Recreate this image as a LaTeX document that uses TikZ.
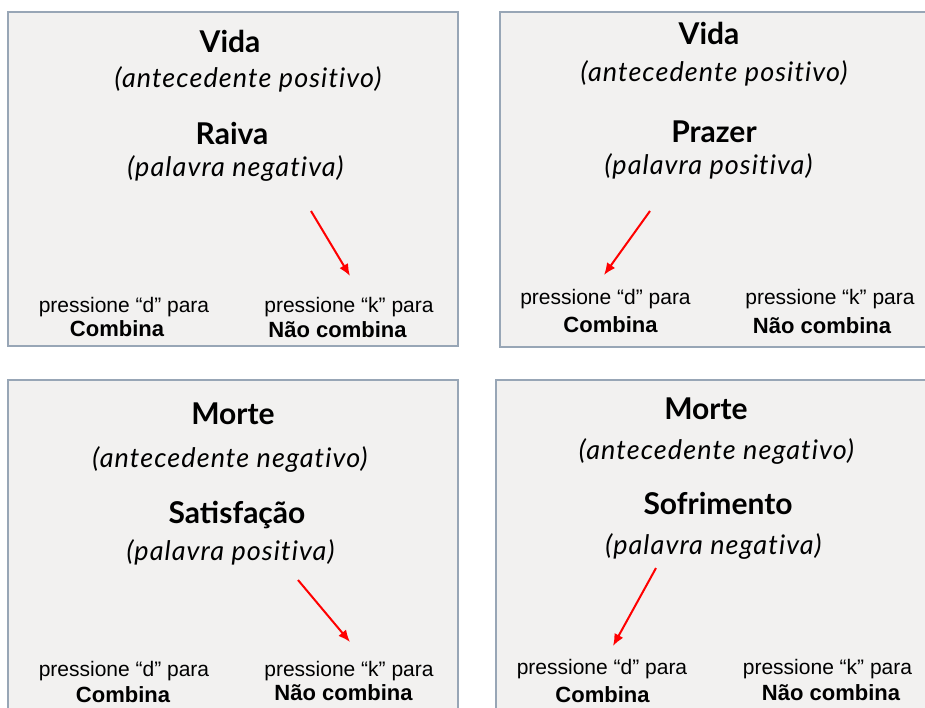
\documentclass[tikz,border=0pt]{standalone}
\usepackage{fontspec}
\setmainfont{Liberation Sans}
\newfontfamily\headfont{Lato}
\newfontfamily\notefont[LetterSpace=4,Ligatures={NoCommon,NoDiscretionary,NoRare}]{Lato}
\usetikzlibrary{arrows.meta}
\definecolor{panelfill}{RGB}{242,241,240}
\definecolor{panelline}{RGB}{152,166,182}
\tikzset{
  panel/.style={draw=panelline,fill=panelfill,line width=1.5pt},
  word/.style={anchor=base,inner sep=0pt,font=\headfont\fontsize{30}{30}\selectfont\bfseries},
  note/.style={anchor=base,inner sep=0pt,font=\notefont\fontsize{27}{27}\selectfont\itshape},
  key/.style={anchor=base,inner sep=0pt,font=\fontsize{21}{21}\selectfont},
  choice/.style={anchor=base,inner sep=0pt,font=\fontsize{22}{22}\selectfont\bfseries},
  resp/.style={red,line width=2pt,-{Latex[length=12pt,width=10pt]}}
}
\begin{document}
\begin{tikzpicture}[x=1pt,y=-1pt]
    \fill[white] (0,0) rectangle (925,707);
    \useasboundingbox (0,0) rectangle (925,707);

  \begin{scope}[shift={(8,12)}]
    \draw[panel] (0,0) rectangle (450,334);
    \node(prime) at (222,40) [word] {Vida};
    \node(primenote) at (240,75) [note] {(antecedente positivo)};
    \node(target) at (224,132) [word] {Raiva};
    \node(targetnote) at (227.5,164) [note] {(palavra negativa)};
    \coordinate(a1) at (303,199);
    \coordinate(a2) at (342,264);
    \draw[resp] (a1) -- (a2);
    \node(dkey) at (116,300) [key] {pressione “d” para};
    \node(dlab) at (109,324) [choice] {Combina};
    \node(kkey) at (341,300) [key] {pressione “k” para};
    \node(klab) at (329.5,325) [choice] {Não combina};
  \end{scope}

  \begin{scope}[shift={(500,12)}]
    \draw[panel] (0,0) rectangle (430,335);
    \node(prime) at (209,32) [word] {Vida};
    \node(primenote) at (214,69) [note] {(antecedente positivo)};
    \node(target) at (214,130) [word] {Prazer};
    \node(targetnote) at (208.5,162) [note] {(palavra positiva)};
    \coordinate(a1) at (150,199);
    \coordinate(a2) at (104,263);
    \draw[resp] (a1) -- (a2);
    \node(dkey) at (105.5,292) [key] {pressione “d” para};
    \node(dlab) at (110.5,320) [choice] {Combina};
    \node(kkey) at (330,292) [key] {pressione “k” para};
    \node(klab) at (322,321) [choice] {Não combina};
  \end{scope}

  \begin{scope}[shift={(8,380)}]
    \draw[panel] (0,0) rectangle (450,335);
    \node(prime) at (225,44) [word] {Morte};
    \node(primenote) at (222,87) [note] {(antecedente negativo)};
    \node(target) at (229,143) [word] {Satisfação};
    \node(targetnote) at (222.5,180) [note] {(palavra positiva)};
    \coordinate(a1) at (290,200);
    \coordinate(a2) at (342,262);
    \draw[resp] (a1) -- (a2);
    \node(dkey) at (116,296) [key] {pressione “d” para};
    \node(dlab) at (115,322) [choice] {Combina};
    \node(kkey) at (341,296) [key] {pressione “k” para};
    \node(klab) at (335.5,320) [choice] {Não combina};
  \end{scope}

  \begin{scope}[shift={(496,380)}]
    \draw[panel] (0,0) rectangle (434,335);
    \node(prime) at (210,39) [word] {Morte};
    \node(primenote) at (220.5,79) [note] {(antecedente negativo)};
    \node(target) at (222,134) [word] {Sofrimento};
    \node(targetnote) at (217.5,174) [note] {(palavra negativa)};
    \coordinate(a1) at (160,188);
    \coordinate(a2) at (117,266);
    \draw[resp] (a1) -- (a2);
    \node(dkey) at (106,294) [key] {pressione “d” para};
    \node(dlab) at (106.5,322) [choice] {Combina};
    \node(kkey) at (331.5,294) [key] {pressione “k” para};
    \node(klab) at (335,320) [choice] {Não combina};
  \end{scope}

\end{tikzpicture}
\end{document}
